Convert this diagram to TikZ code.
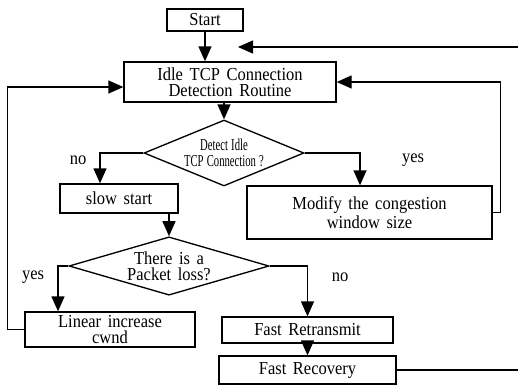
\documentclass[tikz,border=0pt]{standalone}
\usepackage{fontspec}
\setmainfont[FakeStretch=0.9,WordSpace=1.6]{Liberation Serif}
\newfontfamily\narrowfont[FakeStretch=0.64,WordSpace=1.2]{Liberation Serif}
\usetikzlibrary{arrows.meta,shapes.geometric}

\begin{document}
\begin{tikzpicture}[x=0.6pt,y=-0.6pt,
  box/.style={draw,line width=0.8pt,align=center,font=\fontsize{11}{9.5}\selectfont,inner sep=0pt},
  decision/.style={draw,diamond,line width=0.8pt,align=center,inner sep=0pt},
  arr/.style={line width=0.8pt,-{Triangle[length=9pt,width=7.8pt]}},
  lbl/.style={font=\fontsize{11}{11}\selectfont}]
  \useasboundingbox (0,0) rectangle (518,386);
  \node[box,minimum width=45.6pt,minimum height=13.2pt] (start) at (205,20) {Start};
  \node[box,minimum width=127.2pt,minimum height=24pt] (idle) at (230,82) {Idle TCP Connection\\Detection Routine};
  \node[decision,minimum width=96pt,minimum height=39.6pt,aspect=2.6,font=\narrowfont\fontsize{10}{9.4}\selectfont] (detect) at (224,153) {Detect Idle\\TCP Connection ?};
  \node[box,minimum width=70.8pt,minimum height=17.4pt] (slow) at (119,198.5) {slow start};
  \node[box,minimum width=147pt,minimum height=31.8pt] (modify) at (369.5,212.5) {Modify the congestion\\window size};
  \node[decision,minimum width=120pt,minimum height=35pt,aspect=3.3,font=\fontsize{11}{9.5}\selectfont] (loss) at (169,266) {There is a\\Packet loss?};
  \node[box,minimum width=102pt,minimum height=21pt] (linear) at (110,329.5) {Linear increase\\cwnd};
  \node[box,minimum width=102.6pt,minimum height=15.6pt] (retx) at (307.5,330) {Fast Retransmit};
  \node[box,minimum width=106.2pt,minimum height=16.8pt] (recov) at (307.5,370) {Fast Recovery};
  \node[lbl] (no1) at (78,160) {no};
  \node[lbl] (yes1) at (413,160) {yes};
  \node[lbl] (yes2) at (33,277) {yes};
  \node[lbl] (no2) at (340,277) {no};
  \coordinate (fbin) at (518,47);
  \coordinate (fbtip) at (238,47);
  \draw[arr] (start.south) -- (start.south |- idle.north);
  \draw[arr] (fbin) -- (fbtip);
  \draw[arr] (detect.north |- idle.south) -- (detect.north);
  \draw[arr] (detect.west) -| ([xshift=-11.4pt]slow.north);
  \draw[arr] (detect.east) -| ([xshift=-5.7pt]modify.north);
  \draw[arr] (modify.east) -- ++(8,0) |- (idle.east);
  \draw[arr] (loss.north |- slow.south) -- (loss.north);
  \draw[arr] (loss.west) -| ([xshift=-31.2pt]linear.north);
  \draw[arr] (loss.east) -| (retx.north);
  \draw[arr] (linear.west) -- ++(-17,0) |- ([yshift=-3pt]idle.west);
  \draw[arr] (retx.south) -- (recov.north);
  \draw[line width=0.8pt] (recov.east) -- (recov.east -| fbin);
\end{tikzpicture}
\end{document}
